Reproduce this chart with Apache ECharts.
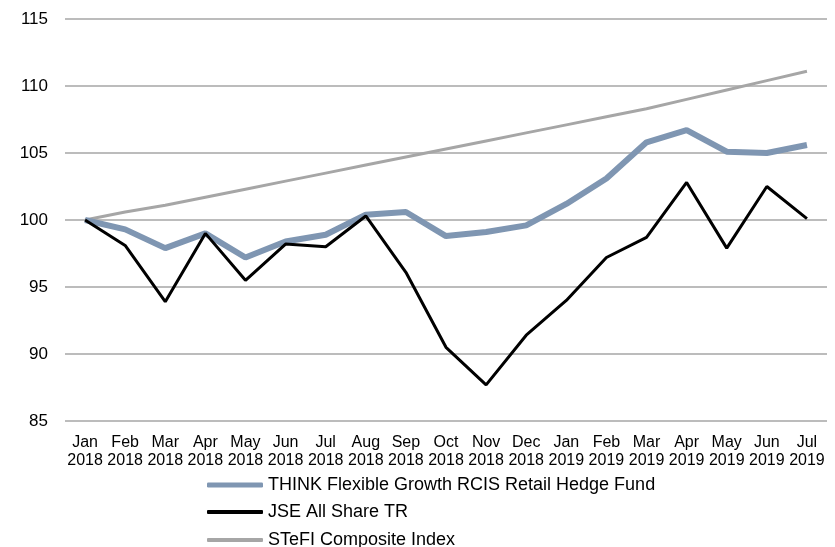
<!DOCTYPE html>
<html>
<head>
<meta charset="utf-8">
<script src="https://cdn.jsdelivr.net/npm/echarts@6/dist/echarts.min.js"></script>
<style>
  html, body { margin: 0; padding: 0; background: #fff; }
  #chart { width: 835px; height: 547px; }
</style>
</head>
<body>
<div id="chart"></div>
<script>
var months = ['Jan\n2018','Feb\n2018','Mar\n2018','Apr\n2018','May\n2018','Jun\n2018','Jul\n2018','Aug\n2018','Sep\n2018','Oct\n2018','Nov\n2018','Dec\n2018',
              'Jan\n2019','Feb\n2019','Mar\n2019','Apr\n2019','May\n2019','Jun\n2019','Jul\n2019'];
var think = [100, 99.3, 97.9, 99.0, 97.2, 98.4, 98.9, 100.4, 100.6, 98.8, 99.1, 99.6, 101.2, 103.1, 105.8, 106.7, 105.1, 105.0, 105.6];
var jse   = [100, 98.1, 93.9, 99.0, 95.5, 98.2, 98.0, 100.3, 96.1, 90.5, 87.7, 91.4, 94.0, 97.2, 98.7, 102.8, 97.9, 102.5, 100.1];
var stefi = [100, 100.6, 101.1, 101.7, 102.3, 102.9, 103.5, 104.1, 104.7, 105.3, 105.9, 106.5, 107.1, 107.7, 108.3, 109.0, 109.7, 110.4, 111.1];
var names = ['THINK Flexible Growth RCIS Retail Hedge Fund', 'JSE All Share TR', 'STeFI Composite Index'];

var myChart = echarts.init(document.getElementById('chart'));
var font = 'Liberation Sans, Arial, sans-serif';

// one legend per row so each icon can have its own thickness
function legendRow(name, top, h) {
    return {
        orient: 'vertical',
        left: 207,
        top: top,
        padding: 0,
        itemWidth: 56,
        itemHeight: h,
        icon: 'roundRect',
        textStyle: { fontFamily: font, fontSize: 18, color: '#000', lineHeight: 20 },
        data: [name]
    };
}

var option = {
    animation: false,
    grid: { left: 65, right: 8, top: 19, bottom: 126 },
    legend: [
        legendRow(names[0], 475, 5),
        legendRow(names[1], 502, 4),
        legendRow(names[2], 530, 4)
    ],
    xAxis: {
        type: 'category',
        data: months,
        axisLine: { show: false },
        axisTick: { show: false },
        axisLabel: { interval: 0, fontFamily: font, fontSize: 16, color: '#000', lineHeight: 18, margin: 13 }
    },
    yAxis: {
        type: 'value',
        min: 85,
        max: 115,
        interval: 5,
        axisLabel: { fontFamily: font, fontSize: 17, color: '#000', margin: 17 },
        splitLine: { lineStyle: { color: '#a6a6a6', width: 1.5 } }
    },
    series: [
        {
            name: names[0], type: 'line', data: think, symbol: 'none', z: 3,
            lineStyle: { color: '#7f96b2', width: 6 }, itemStyle: { color: '#7f96b2' }
        },
        {
            name: names[1], type: 'line', data: jse, symbol: 'none', z: 4,
            lineStyle: { color: '#000', width: 3 }, itemStyle: { color: '#000' }
        },
        {
            name: names[2], type: 'line', data: stefi, symbol: 'none', z: 2,
            lineStyle: { color: '#a6a6a6', width: 3 }, itemStyle: { color: '#a6a6a6' }
        }
    ]
};
myChart.setOption(option);
</script>
</body>
</html>
